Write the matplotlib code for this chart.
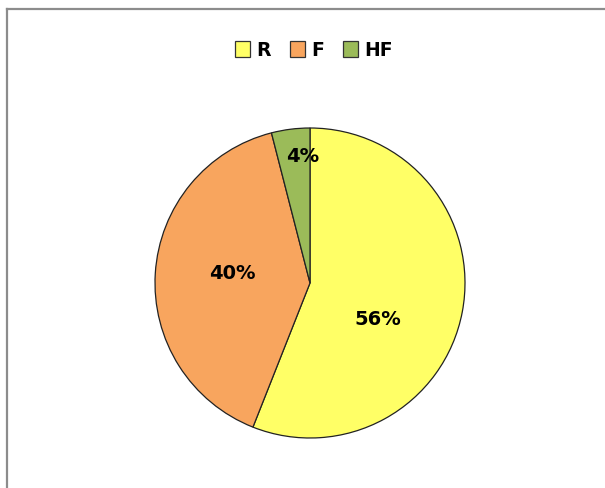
import matplotlib
matplotlib.use("Agg")
import matplotlib.pyplot as plt
from matplotlib.patches import Rectangle
from matplotlib.lines import Line2D

labels = ["R", "F", "HF"]
shares = [56, 40, 4]
colors = ["#FFFF66", "#F8A55E", "#9BBB59"]

# label anchor points in pie units (radius = 1)
label_xy = [(0.44, -0.23), (-0.50, 0.07), (-0.05, 0.82)]

W, H = 605, 489
fig = plt.figure(figsize=(W / 100, H / 100), dpi=100)
fig.patch.set_facecolor("white")

# chart-area frame (left and top edges visible)
fig.add_artist(Line2D([7 / W, 7 / W], [0, 1 - 10 / H], transform=fig.transFigure,
                      color="#8C8C8C", lw=1.6))
fig.add_artist(Line2D([7 / W, 1.01], [1 - 10 / H, 1 - 10 / H], transform=fig.transFigure,
                      color="#8C8C8C", lw=1.6))

cx, cy, r = 310, 284, 155
ax = fig.add_axes([(cx - r) / W, (H - cy - r) / H, 2 * r / W, 2 * r / H])
wedges, texts = ax.pie(shares, colors=colors, startangle=90, counterclock=False,
                       wedgeprops=dict(edgecolor="#222222", linewidth=0.9), radius=1)
ax.set_xlim(-1, 1)
ax.set_ylim(-1, 1)
ax.set_aspect("equal")
ax.axis("off")

for v, (x, y) in zip(shares, label_xy):
    ax.text(x, y, f"{v}%", ha="center", va="center",
            fontsize=14, fontweight="bold", color="black", family="DejaVu Sans")

handles = [Rectangle((0, 0), 1, 1, facecolor=c, edgecolor="#333333", lw=0.9) for c in colors]
fig.legend(handles, labels, loc="center", bbox_to_anchor=(314 / W, 1 - 51 / H),
           ncol=3, frameon=False, prop=dict(weight="bold", size=13.5),
           handlelength=0.8, handleheight=0.9, handletextpad=0.35, columnspacing=1.0)

fig.savefig("out.png", dpi=100)
